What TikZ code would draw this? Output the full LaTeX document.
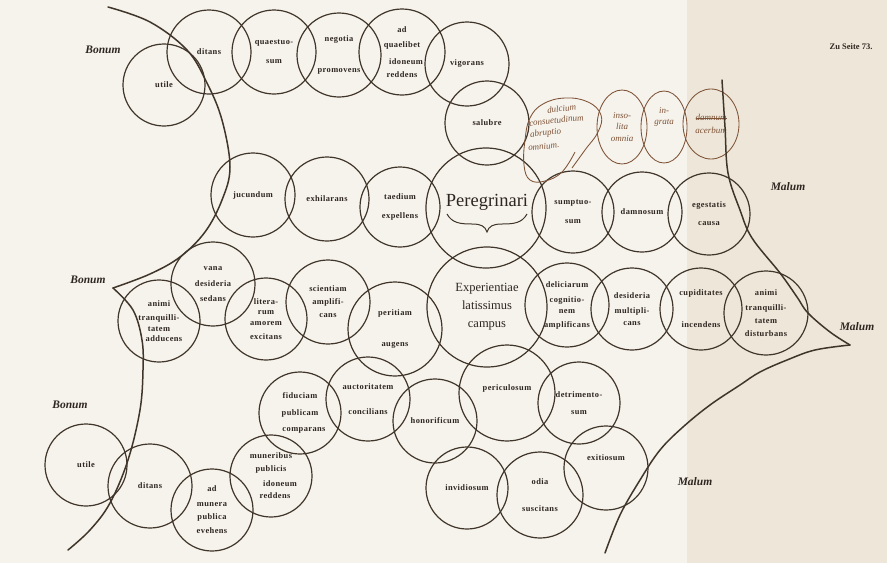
\documentclass[tikz,border=0pt]{standalone}
\usepackage{fontspec}
\setmainfont{Liberation Serif}
\newfontfamily\ctxtfam[LetterSpace=5]{Liberation Serif}
\usetikzlibrary{shapes.geometric}
\definecolor{ink}{HTML}{40352A}
\definecolor{txtc}{HTML}{2E2620}
\definecolor{handc}{HTML}{7E5236}
\definecolor{paper}{HTML}{F6F3EC}
\definecolor{paperR}{HTML}{EEE7D9}
\newcommand\ctxt{\ctxtfam\bfseries\fontsize{8.4}{10}\selectfont}
\newcommand\htxtfont{\itshape\fontsize{9}{11.5}\selectfont}
\newcommand\strk[1]{\begingroup\setbox0\hbox{#1}\rlap{\rule[2.4pt]{\wd0}{0.8pt}}\box0\endgroup}
\tikzset{
  cir/.style={circle, draw=ink, line width=1.2pt, inner sep=0pt, minimum size=#1, align=center, font=\ctxt, text=txtc},
  cir/.default=84pt,
  bound/.style={draw=ink, line width=1.5pt, line cap=round},
  hoval/.style={draw=handc, line width=0.85pt},
  hell/.style={ellipse, draw=handc, line width=0.85pt, inner sep=0pt, text=handc, font=\htxtfont, align=center},
  htext/.style={text=handc, font=\htxtfont, inner sep=0pt, anchor=west},
  region/.style={font=\bfseries\itshape\fontsize{11.5}{12}\selectfont, text=txtc, inner sep=0pt},
  bigtext/.style={font=\fontsize{18.5}{19}\selectfont, text=txtc, inner sep=0pt},
}
\begin{document}
\begin{tikzpicture}[x=1pt,y=-1pt]
\fill[paper] (0,0) rectangle (887,563);
\fill[paperR] (687,0) rectangle (887,563);
\useasboundingbox (0,0) rectangle (887,563);

% top row
\node[cir=82pt] (utileA) at (164,85) {utile};
\node[cir] (ditansA) at (209,52) {ditans};
\node[cir] (quaest) at (274,52) {quaestuo-\\[9pt]sum};
\node[cir] (negot) at (339,55) {negotia\\[21pt]promovens};
\node[cir=86pt] (adqual) at (402,52) {ad\\[5pt]quaelibet\\[7pt]\hspace*{8pt}idoneum\\[3pt]reddens};
\node[cir] (vigor) at (467,64) {vigorans};
\node[cir] (salub) at (487,123) {salubre};

% second row
\node[cir] (jucund) at (253,195) {jucundum};
\node[cir] (exhil) at (327,199) {exhilarans};
\node[cir=80pt] (taed) at (400,207) {taedium\\[9pt]expellens};
\node[cir=120pt] (pereg) at (486,208) {};
\node[bigtext] (peregT) at (487,202) {Peregrinari};
\draw[ink, line width=1pt] (447,214) .. controls (452,223) and (460,224) .. (472,224) .. controls (481,224) and (485,226) .. (487,232) .. controls (489,226) and (493,224) .. (502,224) .. controls (514,224) and (522,223) .. (527,214);
\node[cir=82pt] (sumpt) at (573,212) {sumptuo-\\[9pt]sum};
\node[cir=80pt] (damnos) at (642,212) {damnosum};
\node[cir=82pt] (egest) at (709,214) {egestatis\\[8pt]causa};

% third row
\node[cir] (vana) at (213,284) {vana\\[6pt]desideria\\[5pt]sedans};
\node[cir=82pt] (animiA) at (159,321) {animi\\[4pt]tranquilli-\\[1pt]tatem\\[0pt]\hspace*{10pt}adducens};
\node[cir=82pt] (litera) at (266,319) {litera-\\rum\\[1pt]amorem\\[4pt]excitans};
\node[cir] (scient) at (328,302) {scientiam\\[3pt]amplifi-\\[3pt]cans};
\node[cir=94pt] (perit) at (395,329) {peritiam\\[21pt]augens};
\node[cir=120pt, font=\fontsize{12.5}{18}\selectfont] (exper) at (487,307) {Experientiae\\latissimus\\campus};
\node[cir] (delic) at (567,305) {deliciarum\\[5pt]cognitio-\\[1pt]nem\\[4pt]amplificans};
\node[cir=82pt] (desid) at (632,309) {desideria\\[5pt]multipli-\\[2pt]cans};
\node[cir=82pt] (cupid) at (701,309) {cupiditates\\[22pt]incendens};
\node[cir] (animiB) at (766,313) {animi\\[5pt]tranquilli-\\[3pt]tatem\\[3pt]disturbans};

% bottom region
\node[cir=82pt] (fiduc) at (300,413) {fiduciam\\[7pt]publicam\\[6pt]\hspace*{8pt}comparans};
\node[cir] (auctor) at (368,399) {auctoritatem\\[15pt]concilians};
\node[cir] (honor) at (435,421) {honorificum};
\node[cir=96pt] (pericul) at (507,393) {\raisebox{5pt}[\height][\depth]{periculosum}};
\node[cir=82pt] (detrim) at (579,403) {detrimento-\\[7pt]sum};
\node[cir] (exit) at (606,468) {\raisebox{10pt}[\height][\depth]{exitiosum}};
\node[cir=82pt] (invid) at (467,488) {invidiosum};
\node[cir=86pt] (odia) at (540,495) {odia\\[17pt]suscitans};
\node[cir=82pt] (muner) at (271,476) {muneribus\\[3pt]publicis\\[5pt]\hspace*{18pt}idoneum\\[2pt]\hspace*{8pt}reddens};
\node[cir=82pt] (admun) at (212,510) {ad\\[5pt]munera\\[3pt]publica\\[4pt]evehens};
\node[cir] (ditansB) at (150,486) {ditans};
\node[cir=82pt] (utileB) at (86,465) {utile};

% handwritten annotations
\draw[hoval] plot[smooth, tension=0.7] coordinates {(572,168) (585,150) (598,132) (601,115) (588,102) (565,98) (543,104) (530,118) (525,140) (524,165) (530,180) (545,181) (562,172) (575,152)};
\node[htext, rotate=6] (hd1) at (547,110) {dulcium};
\node[htext, rotate=6] (hd2) at (529,123) {consuetudinum};
\node[htext, rotate=6] (hd3) at (530,135) {abruptio};
\node[htext, rotate=6] (hd4) at (528,148) {omnium.};
\node[hell, minimum width=50pt, minimum height=74pt] (inso) at (622,127) {inso-\\lita\\omnia};
\node[hell, minimum width=46pt, minimum height=72pt] (ingr) at (664,127) {in-\\grata\\[10pt]};
\node[hell, minimum width=56pt, minimum height=70pt] (acerb) at (711,124) {\strk{damnum}\\[1pt]acerbum};

% boundaries
\draw[bound] plot[smooth, tension=0.6] coordinates {(108,7) (150,22) (187,50) (207,83) (222,120) (230,167) (222,200) (205,232) (180,257) (150,274) (113,288)};
\draw[bound] plot[smooth, tension=0.6] coordinates {(113,288) (133,310) (142,340) (143,370) (140,410) (128,460) (110,503) (90,530) (68,550)};
\draw[bound] plot[smooth, tension=0.6] coordinates {(722,80) (725,127) (728,173) (740,210) (752,238) (780,273) (797,297) (808,313) (830,332) (850,345)};
\draw[bound] plot[smooth, tension=0.6] coordinates {(850,345) (815,350) (787,360) (760,372) (740,385) (710,405) (683,427) (660,450) (640,480) (620,515) (605,553)};

% region labels
\node[region] (bon1) at (103,50) {Bonum};
\node[region] (bon2) at (88,280) {Bonum};
\node[region] (bon3) at (70,405) {Bonum};
\node[region] (mal1) at (788,187) {Malum};
\node[region] (mal2) at (857,327) {Malum};
\node[region] (mal3) at (695,482) {Malum};
\node[font=\bfseries\fontsize{8.5}{9}\selectfont, text=txtc, inner sep=0pt] (zu) at (851,47) {Zu Seite 73.};
\end{tikzpicture}
\end{document}
